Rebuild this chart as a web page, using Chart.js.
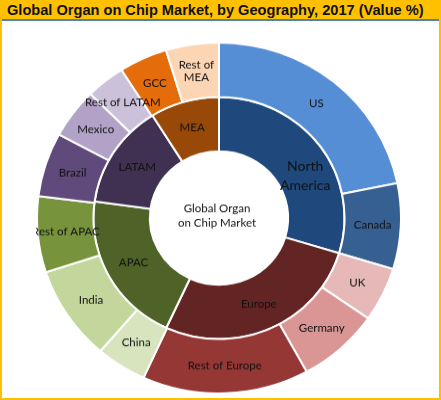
<!DOCTYPE html>
<html>
<head>
<meta charset="utf-8">
<script src="https://cdn.jsdelivr.net/npm/chart.js@4/dist/chart.umd.min.js"></script>
<style>
  html, body { margin: 0; padding: 0; background: #fff; }
  #frame {
    position: relative; width: 441px; height: 400px; box-sizing: border-box;
    border: 2px solid #FFC000; border-top: none; overflow: hidden;
  }
  #title {
    position: absolute; left: -2px; top: 0; width: 441px; height: 21px;
    background: #FFC000; border-bottom: 2px solid #4F81BD;
    font: bold 14.6px "Liberation Sans", Arial, sans-serif; color: #111;
    line-height: 21px; padding-left: 7px; box-sizing: border-box; white-space: nowrap;
  }
  #wrap {
    position: absolute; left: 34px; top: 35px; width: 366px; height: 366px;
    transform: scaleY(0.964); transform-origin: 50% 50%;
  }
</style>
</head>
<body>
<div id="frame">
  <div id="title">Global Organ on Chip Market, by Geography, 2017 (Value %)</div>
  <div id="wrap"><canvas id="chart" width="366" height="366"></canvas></div>
</div>
<script>
// inner ring: regions
const regions = ['North\nAmerica', 'Europe', 'APAC', 'LATAM', 'MEA'];
const regionValues = [29.7, 27.2, 20.3, 13.9, 8.9];
const regionColors = ['#1F497D', '#632523', '#4F6228', '#403152', '#984807'];

// outer ring: countries
const countries = ['US', 'Canada', 'UK', 'Germany', 'Rest of Europe', 'China', 'India',
  'Rest of APAC', 'Brazil', 'Mexico', 'Rest of LATAM', 'GCC', 'Rest of\nMEA'];
const countryValues = [21.8, 7.9, 5.0, 7.3, 14.8, 4.5, 8.7, 7.0, 5.9, 4.6, 3.5, 4.3, 4.7];
const countryColors = ['#558ED5', '#376092', '#E6B9B8', '#D99694', '#953735', '#D7E4BD', '#C3D69B',
  '#77933C', '#604A7B', '#B3A2C7', '#CCC1DA', '#E46C0A', '#FCD5B5'];

const centerText = ['Global Organ', 'on Chip Market'];

const sliceLabels = {
  id: 'sliceLabels',
  afterDatasetsDraw(chart) {
    const ctx = chart.ctx;
    ctx.save();
    ctx.textAlign = 'center';
    ctx.textBaseline = 'middle';
    ctx.fillStyle = '#111';
    chart.data.datasets.forEach((ds, i) => {
      const meta = chart.getDatasetMeta(i);
      meta.data.forEach((arc, j) => {
        const p = arc.tooltipPosition();
        const lines = ds.names[j].split('\n');
        const big = ds.names[j] === 'North\nAmerica';
        // excel nudges the big label a bit further round
        const dx = big ? 8 : 0, dy = big ? 14 : 0;
        const size = big ? 14 : 11.5;
        ctx.font = size + 'px Lato, "Open Sans", sans-serif';
        const lh = big ? 20 : 13;
        lines.forEach((t, k) => {
          ctx.fillText(t, p.x + dx, p.y + dy + (k - (lines.length - 1) / 2) * lh);
        });
      });
    });
    const c = chart.getDatasetMeta(0).data[0];
    ctx.font = '11.5px Lato, "Open Sans", sans-serif';
    centerText.forEach((t, k) => ctx.fillText(t, c.x - 2, c.y + (k - 0.5) * 15 - 2));
    ctx.restore();
  }
};

new Chart(document.getElementById('chart'), {
  type: 'doughnut',
  data: {
    datasets: [{
      names: countries,
      data: countryValues,
      backgroundColor: countryColors,
      borderColor: '#fff',
      borderWidth: 2
    }, {
      names: regions,
      data: regionValues,
      backgroundColor: regionColors,
      borderColor: '#fff',
      borderWidth: 2
    }]
  },
  options: {
    responsive: false,
    animation: false,
    cutout: '38%',
    hoverOffset: 0,
    layout: { padding: 0 },
    plugins: {
      legend: { display: false },
      tooltip: { enabled: false }
    }
  },
  plugins: [sliceLabels]
});
</script>
</body>
</html>
